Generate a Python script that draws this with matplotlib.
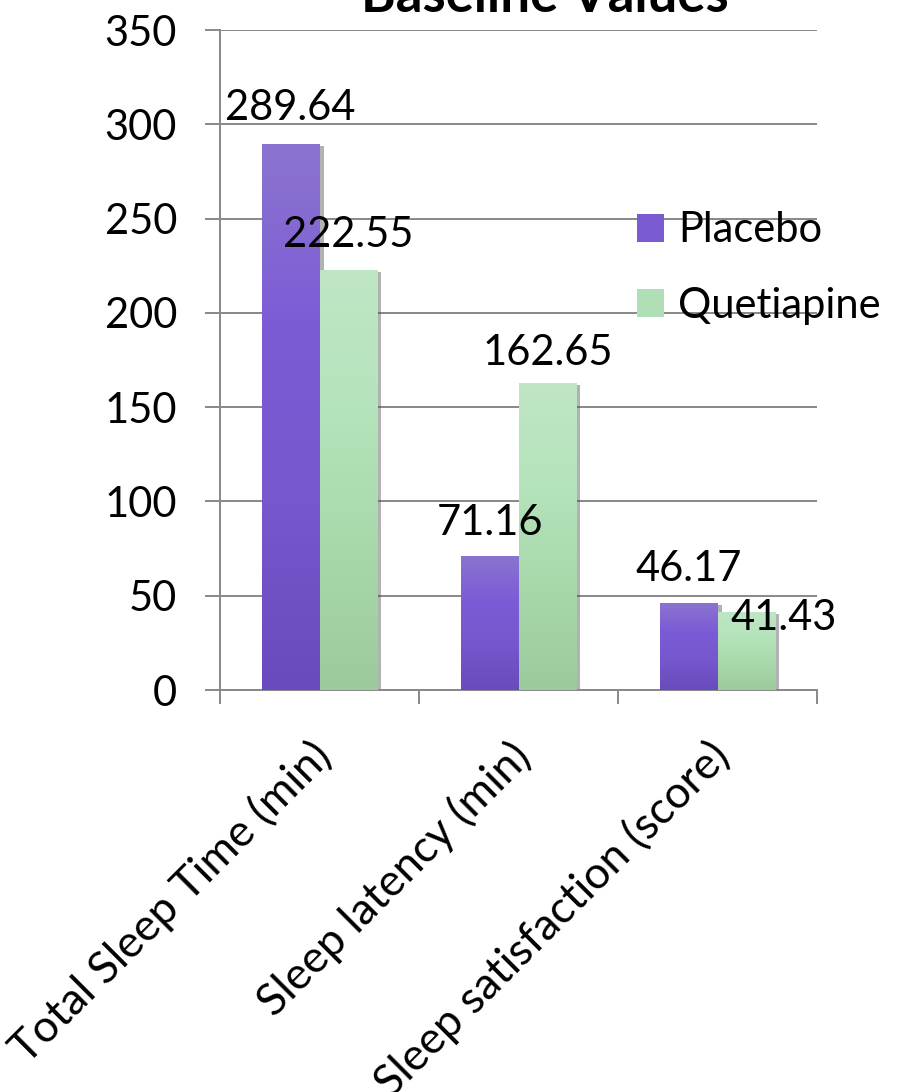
import numpy as np
import matplotlib
matplotlib.use('Agg')
import matplotlib.pyplot as plt
import matplotlib.transforms as mtransforms
from matplotlib.patches import Patch
from matplotlib import patheffects as pe
from matplotlib.colors import LinearSegmentedColormap

categories = ['Total Sleep Time (min)', 'Sleep latency (min)', 'Sleep satisfaction (score)']
series = ['Placebo', 'Quetiapine']
placebo = [289.64, 71.16, 46.17]
quetiapine = [222.55, 162.65, 41.43]

plt.rcParams['font.family'] = ['Lato', 'DejaVu Sans']

fig = plt.figure(figsize=(9.11, 10.92), dpi=100)
ax = fig.add_axes([220 / 911, 1 - 690 / 1092, (817 - 220) / 911, (690 - 30) / 1092])

grad_colors = {
    'Placebo': ['#6a4bbd', '#7657cc', '#7c5cd6', '#8b74cf'],
    'Quetiapine': ['#9dca9d', '#a8d8aa', '#b5e3bb', '#bfe6c5'],
}
solid = {'Placebo': '#7a5bd2', 'Quetiapine': '#b1dfb5'}

x = np.arange(len(categories))
width = 0.29
grad = np.linspace(0, 1, 256).reshape(-1, 1)

for i, (name, vals) in enumerate(zip(series, [placebo, quetiapine])):
    pos = x + (i - 0.5) * width
    bars = ax.bar(pos, vals, width, color=solid[name], zorder=2,
                  path_effects=[pe.SimplePatchShadow(offset=(3, -1.5), shadow_rgbFace='#555555', alpha=0.45),
                                pe.Normal()])
    cmap = LinearSegmentedColormap.from_list(name, grad_colors[name])
    for b in bars:
        im = ax.imshow(grad, cmap=cmap, origin='lower', aspect='auto', zorder=3,
                       extent=[b.get_x(), b.get_x() + b.get_width(), 0, b.get_height()])
        im.set_clip_path(b)

# data labels (offsets in points, like Excel's placement)
label_offsets = [[(0, 17), (0, 17)], [(0, 15), (0, 13)], [(0, 16), (27, -13)]]
for i, vals in enumerate([placebo, quetiapine]):
    pos = x + (i - 0.5) * width
    for j, (px, v) in enumerate(zip(pos, vals)):
        dx, dy = label_offsets[j][i]
        ax.annotate(f'{v:.2f}', (px, v), xytext=(dx, dy), textcoords='offset points',
                    ha='center', va='baseline', fontsize=30, zorder=5)

ax.set_xlim(-0.5, 2.5)
ax.set_ylim(0, 350)
ax.set_yticks(np.arange(0, 351, 50))
ax.tick_params(axis='y', length=11, width=1.4, color='#888888', pad=20, labelsize=30)
ax.yaxis.grid(True, color='#888888', linewidth=1.4)
ax.set_axisbelow(True)

ax.set_xticks(x)
ax.set_xticklabels(categories, rotation=45, ha='right', va='top', rotation_mode='anchor', fontsize=32)
ax.tick_params(axis='x', which='major', length=0, pad=32)
ax.set_xticks([-0.5, 0.5, 1.5, 2.5], minor=True)
ax.tick_params(axis='x', which='minor', length=10, width=1.4, color='#888888')
shift = mtransforms.ScaledTranslation(-0.10, 0, fig.dpi_scale_trans)
for lbl in ax.get_xticklabels():
    lbl.set_transform(lbl.get_transform() + shift)

for s in ['top', 'right']:
    ax.spines[s].set_visible(False)
for s in ['left', 'bottom']:
    ax.spines[s].set_color('#888888')
    ax.spines[s].set_linewidth(1.4)

handles = [Patch(facecolor=solid[n], label=n) for n in series]
fig.legend(handles=handles, loc='center left', bbox_to_anchor=(616 / 911, 1 - 268 / 1092),
           frameon=False, fontsize=30, borderpad=0, handlelength=0.65, handleheight=0.65,
           handletextpad=0.35, labelspacing=0.9)

fig.text(545 / 911, 1 - 12 / 1092, 'Baseline Values', ha='center', va='baseline',
         fontsize=38, fontweight='bold')

fig.savefig('out.png', dpi=100)
